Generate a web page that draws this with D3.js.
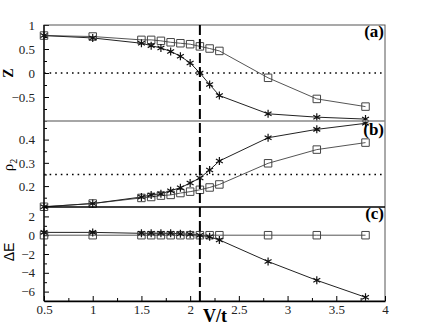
<!DOCTYPE html>
<html>
<head>
<meta charset="utf-8">
<script src="https://cdn.jsdelivr.net/npm/d3@7"></script>
<style>
  body { margin: 0; background: #fff; }
  #wrapper text { font-family: "Liberation Serif", "Times New Roman", serif; }
</style>
</head>
<body>
<div id="wrapper"></div>
<script>
// data
const vt = [0.5, 1, 1.5, 1.6, 1.7, 1.8, 1.9, 2.0, 2.1, 2.2, 2.3, 2.8, 3.3, 3.8]
const zSquare = [0.78, 0.76, 0.69, 0.69, 0.67, 0.64, 0.62, 0.60, 0.555, 0.51, 0.46, -0.10, -0.54, -0.70]
const zStar = [0.78, 0.73, 0.62, 0.57, 0.52, 0.45, 0.35, 0.21, 0.0, -0.24, -0.47, -0.85, -0.92, -0.96]
const rhoSquare = [0.111, 0.125, 0.149, 0.153, 0.159, 0.162, 0.170, 0.176, 0.184, 0.194, 0.207, 0.298, 0.357, 0.387]
const rhoStar = [0.111, 0.125, 0.153, 0.162, 0.167, 0.180, 0.193, 0.213, 0.235, 0.269, 0.308, 0.408, 0.444, 0.470]
const eSquare = [0, 0, 0, 0, 0, 0, 0, 0, 0, 0, 0, 0, 0, 0]
const eStar = [0.3, 0.3, 0.2, 0.2, 0.2, 0.2, 0.15, 0.1, 0, -0.17, -0.5, -2.8, -4.8, -6.6]

const xTicks = [0.5, 1, 1.5, 2, 2.5, 3, 3.5, 4]
const zTicks = [-0.5, 0, 0.5, 1]
const rhoTicks = [0.2, 0.3, 0.4]
const eTicks = [-6, -4, -2, 0, 2]
const vCritical = 2.1

function drawChart() {
  const dimensions = {
    width: 436,
    height: 327,
    left: 44,
    right: 385,
    top: 25,
    ab: 121,
    bc: 207,
    bottom: 301,
  }
  const serif = "'Liberation Serif', 'Times New Roman', serif"

  const svg = d3.select("#wrapper")
    .append("svg")
    .attr("width", dimensions.width)
    .attr("height", dimensions.height)

  const xScale = d3.scaleLinear()
    .domain([0.5, 4])
    .range([dimensions.left, dimensions.right])

  const panels = [
    { sq: zSquare, st: zStar, domain: [-1, 1], range: [dimensions.ab, dimensions.top],
      ticks: zTicks, minor: d3.range(-1, 1.01, 0.25), fmt: d3.format(""), ref: 0, label: "(a)", labelY: 37 },
    { sq: rhoSquare, st: rhoStar, domain: [0.11, 0.48], range: [dimensions.bc, dimensions.ab],
      ticks: rhoTicks, minor: d3.range(0.15, 0.48, 0.05), fmt: d3.format(".1f"), ref: 0.25, label: "(b)", labelY: 135 },
    { sq: eSquare, st: eStar, domain: [-7, 3], range: [dimensions.bottom, dimensions.bc],
      ticks: eTicks, minor: d3.range(-7, 3.01, 1), fmt: d3.format(""), ref: null, label: "(c)", labelY: 219 },
  ]

  // six armed asterisk
  const asterisk = {
    draw(context, size) {
      const r = Math.sqrt(size) / 2
      for (let i = 0; i < 3; i++) {
        const a = Math.PI / 2 + i * Math.PI / 3
        context.moveTo(r * Math.cos(a), r * Math.sin(a))
        context.lineTo(-r * Math.cos(a), -r * Math.sin(a))
      }
    }
  }
  const squareSymbol = d3.symbol().type(d3.symbolSquare).size(56)
  const starSymbol = d3.symbol().type(asterisk).size(64)

  panels.forEach(p => {
    const yScale = d3.scaleLinear().domain(p.domain).range(p.range)
    const g = svg.append("g")

    // minor ticks
    g.append("g")
      .attr("transform", `translate(${dimensions.left},0)`)
      .call(d3.axisLeft(yScale).tickValues(p.minor.filter(v => !p.ticks.includes(+v.toFixed(2))))
        .tickSizeInner(-3).tickSizeOuter(0).tickFormat(""))
      .call(a => a.select(".domain").remove())

    const yAxis = g.append("g")
      .attr("transform", `translate(${dimensions.left},0)`)
      .call(d3.axisLeft(yScale).tickValues(p.ticks).tickFormat(p.fmt)
        .tickSizeInner(-5).tickSizeOuter(0).tickPadding(9))
      .attr("font-family", serif)
      .attr("font-size", 13)
    yAxis.select(".domain").remove()
    yAxis.selectAll("text").attr("fill", "#222")

    if (p.ref !== null) {
      g.append("line")
        .attr("x1", dimensions.left).attr("x2", dimensions.right)
        .attr("y1", yScale(p.ref)).attr("y2", yScale(p.ref))
        .attr("stroke", "#000").attr("stroke-width", 1.5)
        .attr("stroke-dasharray", "1.6,4")
    }

    const line = d3.line()
      .x((d, i) => xScale(vt[i]))
      .y(d => yScale(d))

    g.append("path").datum(p.sq)
      .attr("d", line).attr("fill", "none")
      .attr("stroke", "#555").attr("stroke-width", 1)
    g.append("path").datum(p.st)
      .attr("d", line).attr("fill", "none")
      .attr("stroke", "#222").attr("stroke-width", 1)

    g.selectAll(".sq").data(p.sq)
      .enter().append("path")
        .attr("class", "sq")
        .attr("transform", (d, i) => `translate(${xScale(vt[i])},${yScale(d)})`)
        .attr("d", squareSymbol)
        .attr("fill", "none").attr("stroke", "#444").attr("stroke-width", 1)
    g.selectAll(".st").data(p.st)
      .enter().append("path")
        .attr("class", "st")
        .attr("transform", (d, i) => `translate(${xScale(vt[i])},${yScale(d)})`)
        .attr("d", starSymbol)
        .attr("fill", "none").attr("stroke", "#111").attr("stroke-width", 1.2)

    g.append("text")
      .attr("x", dimensions.right - 1)
      .attr("y", p.labelY)
      .attr("text-anchor", "end")
      .style("font-size", "17px")
      .style("font-weight", "bold")
      .text(p.label)
  })

  // frames
  svg.append("rect")
    .attr("x", dimensions.left).attr("y", dimensions.top)
    .attr("width", dimensions.right - dimensions.left)
    .attr("height", dimensions.bottom - dimensions.top)
    .attr("fill", "none").attr("stroke", "#555").attr("stroke-width", 1)
  svg.append("line")
    .attr("x1", dimensions.left).attr("x2", dimensions.right)
    .attr("y1", dimensions.ab).attr("y2", dimensions.ab)
    .attr("stroke", "#888").attr("stroke-width", 1.6)
  svg.append("line")
    .attr("x1", dimensions.left).attr("x2", dimensions.right)
    .attr("y1", dimensions.bc).attr("y2", dimensions.bc)
    .attr("stroke", "#000").attr("stroke-width", 1.3)
  svg.append("line")
    .attr("x1", dimensions.left).attr("x2", dimensions.left)
    .attr("y1", dimensions.top).attr("y2", dimensions.bottom)
    .attr("stroke", "#000").attr("stroke-width", 1.3)

  // x axis
  const xMinor = d3.range(0.75, 4, 0.5)
  svg.append("g")
    .attr("transform", `translate(0,${dimensions.bottom})`)
    .call(d3.axisBottom(xScale).tickValues(xMinor).tickSizeInner(-3).tickSizeOuter(0).tickFormat(""))
    .call(a => a.select(".domain").remove())
  const xAxis = svg.append("g")
    .attr("transform", `translate(0,${dimensions.bottom})`)
    .call(d3.axisBottom(xScale).tickValues(xTicks).tickFormat(d3.format(""))
      .tickSizeInner(-5).tickSizeOuter(0).tickPadding(4))
    .attr("font-family", serif)
    .attr("font-size", 13)
  xAxis.select(".domain").attr("stroke", "#000").attr("stroke-width", 1.3)
  xAxis.selectAll("text").attr("fill", "#222")

  // critical V/t
  svg.append("line")
    .attr("x1", xScale(vCritical)).attr("x2", xScale(vCritical))
    .attr("y1", dimensions.top).attr("y2", dimensions.bottom)
    .attr("stroke", "#000").attr("stroke-width", 2)
    .attr("stroke-dasharray", "10,4")

  // axis titles
  svg.append("text")
    .attr("x", 203).attr("y", 322)
    .style("font-size", "18px").style("font-weight", "bold")
    .text("V/t")

  svg.append("text")
    .attr("transform", "translate(12.5,73) rotate(-90)")
    .attr("text-anchor", "middle")
    .style("font-size", "14px").style("font-weight", "bold")
    .text("Z")

  const rho = svg.append("text")
    .attr("transform", "translate(13,165) rotate(-90)")
    .attr("text-anchor", "middle")
    .style("font-size", "15px")
  rho.append("tspan").text("ρ")
  rho.append("tspan").attr("dy", 4).style("font-size", "10px").text("2")

  svg.append("text")
    .attr("transform", "translate(14,252) rotate(-90)")
    .attr("text-anchor", "middle")
    .style("font-family", "'Liberation Sans', sans-serif")
    .style("font-size", "14px")
    .text("ΔE")
}

drawChart()
</script>
</body>
</html>
